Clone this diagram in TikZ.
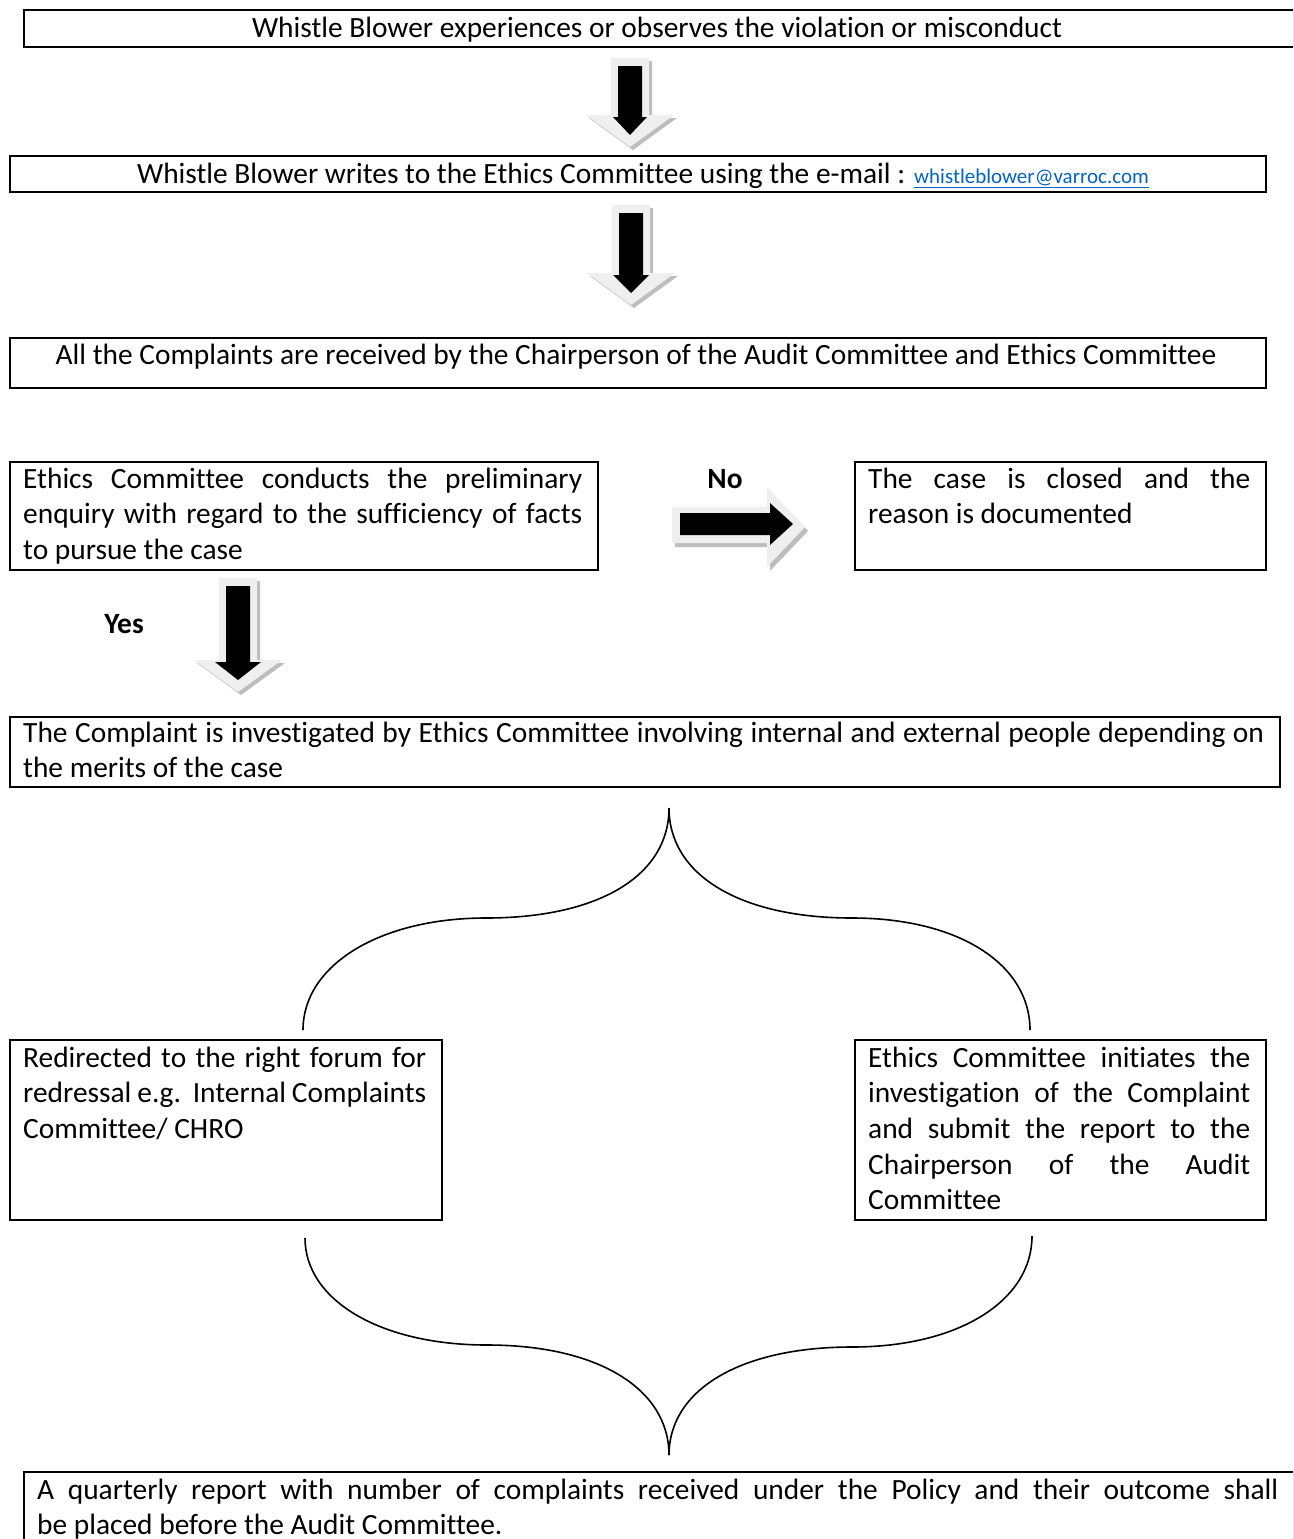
\documentclass[tikz,border=0pt]{standalone}
\usepackage{fontspec}
\setmainfont{Carlito}[Ligatures={NoCommon,NoContextual}, RawFeature={-liga;-clig;-calt;-rlig;-dlig}]
\definecolor{arrgray}{HTML}{EFEFEF}
\definecolor{arrshadow}{HTML}{BDBDBD}
\definecolor{linkblue}{HTML}{0563C1}
\newcommand\mainsz{\fontsize{29.4}{35.7}\selectfont\hyphenpenalty=10000\exhyphenpenalty=10000\emergencystretch=20pt}
\newcommand\downblock[4]{%
  \begin{scope}[shift={(#1,#2)}]
    \fill[arrshadow,shift={(3,3)}] (-19,0) -- (19,0) -- (19,{#3-32}) -- (44,{#3-32}) -- (0,#3) -- (-44,{#3-32}) -- (-19,{#3-32}) -- cycle;
    \fill[arrgray] (-19,0) -- (19,0) -- (19,{#3-32}) -- (44,{#3-32}) -- (0,#3) -- (-44,{#3-32}) -- (-19,{#3-32}) -- cycle;
    \fill[black] (-12,8) -- (12,8) -- (12,{#3-30}) -- (#4,{#3-30}) -- (0,{#3-12}) -- (-#4,{#3-30}) -- (-12,{#3-30}) -- cycle;
  \end{scope}}
\begin{document}
\begin{tikzpicture}[x=1pt,y=-1pt,
  box/.style={draw=black, line width=2pt, anchor=north west, inner sep=0pt},
  ctxt/.style={anchor=base, inner sep=0pt, font=\mainsz},
  jtxt/.style={anchor=base west, inner sep=0pt, align=justify, font=\mainsz},
  lbl/.style={anchor=base, inner sep=0pt, font=\mainsz\bfseries},
  brace/.style={line width=1.6pt, black}]
\clip (0,0) rectangle (1293,1539);
\fill[white] (0,0) rectangle (1293,1539);

% boxes
\node[box, minimum width=1270pt, minimum height=37pt] (b1) at (23,9) {};
\node[box, minimum width=1256pt, minimum height=36pt] (b2) at (9,155) {};
\node[box, minimum width=1256pt, minimum height=50pt] (b3) at (9,337) {};
\node[box, minimum width=588pt, minimum height=108pt] (b4) at (9,461) {};
\node[box, minimum width=411pt, minimum height=108pt] (b5) at (854,461) {};
\node[box, minimum width=1270pt, minimum height=70pt] (b6) at (9,716) {};
\node[box, minimum width=432pt, minimum height=180pt] (b7) at (9,1039) {};
\node[box, minimum width=411pt, minimum height=180pt] (b8) at (854,1039) {};
\node[box, minimum width=1270pt, minimum height=120pt] (b9) at (23,1471) {};

% texts
\node[ctxt] (t1) at (657,37) {Whistle Blower experiences or observes the violation or misconduct};
\node[ctxt] (t2) at (643,183) {Whistle Blower writes to the Ethics Committee using the e-mail : {\fontsize{21}{25}\selectfont\color{linkblue}\underline{whistleblower@varroc.com}}};
\node[ctxt] (t3) at (636,364) {All the Complaints are received by the Chairperson of the Audit Committee and Ethics Committee};
\node[jtxt, text width=559pt] (t4) at (23,488) {Ethics Committee conducts the preliminary\linebreak enquiry with regard to the sufficiency of facts\linebreak to pursue the case};
\node[jtxt, text width=382pt] (t5) at (868,488) {The case is closed and the\linebreak reason is documented};
\node[jtxt, text width=1241pt] (t6) at (23,742) {The Complaint is investigated by Ethics Committee involving internal and external people depending on\linebreak the merits of the case};
\node[jtxt, text width=403pt] (t7) at (23,1067) {Redirected to the right forum for\linebreak redressal e.g.\ \ Internal Complaints\linebreak Committee/ CHRO};
\node[jtxt, text width=382pt] (t8) at (868,1067) {Ethics Committee initiates the\linebreak investigation of the Complaint\linebreak and submit the report to the\linebreak Chairperson of the Audit\linebreak Committee};
\node[jtxt, text width=1241pt] (t9) at (37,1499) {A quarterly report with number of complaints received under the Policy and their outcome shall\linebreak be placed before the Audit Committee.};

% labels
\node[lbl] (no) at (725,488) {No};
\node[lbl] (yes) at (124,633) {Yes};

% block arrows
\downblock{630}{58}{89}{17}
\downblock{631}{205}{100}{18}
\downblock{238}{578}{114}{23}
\fill[arrshadow,shift={(3,4)}] (672,507) -- (767,507) -- (767,487) -- (805,527) -- (767,567) -- (767,543) -- (672,543) -- cycle;
\fill[arrgray] (672,507) -- (767,507) -- (767,487) -- (805,527) -- (767,567) -- (767,543) -- (672,543) -- cycle;
\fill[black] (680,513) -- (770,513) -- (770,503) -- (793,524) -- (770,545) -- (770,535) -- (680,535) -- cycle;

% braces
\coordinate (tt) at (669,808);
\coordinate (tl) at (303,1030);
\coordinate (tr) at (1030,1030);
\draw[brace] (tl) .. controls (303,965) and (380,918) .. (486,918) .. controls (600,918) and (669,875) .. (tt);
\draw[brace] (tt) .. controls (669,875) and (740,918) .. (852,918) .. controls (960,918) and (1030,965) .. (tr);
\coordinate (bt) at (669,1455);
\coordinate (bl) at (305,1238);
\coordinate (br) at (1032,1236);
\draw[brace] (bl) .. controls (305,1300) and (380,1345) .. (487,1345) .. controls (600,1345) and (669,1390) .. (bt);
\draw[brace] (bt) .. controls (669,1390) and (740,1347) .. (852,1347) .. controls (960,1347) and (1032,1300) .. (br);
\end{tikzpicture}
\end{document}
